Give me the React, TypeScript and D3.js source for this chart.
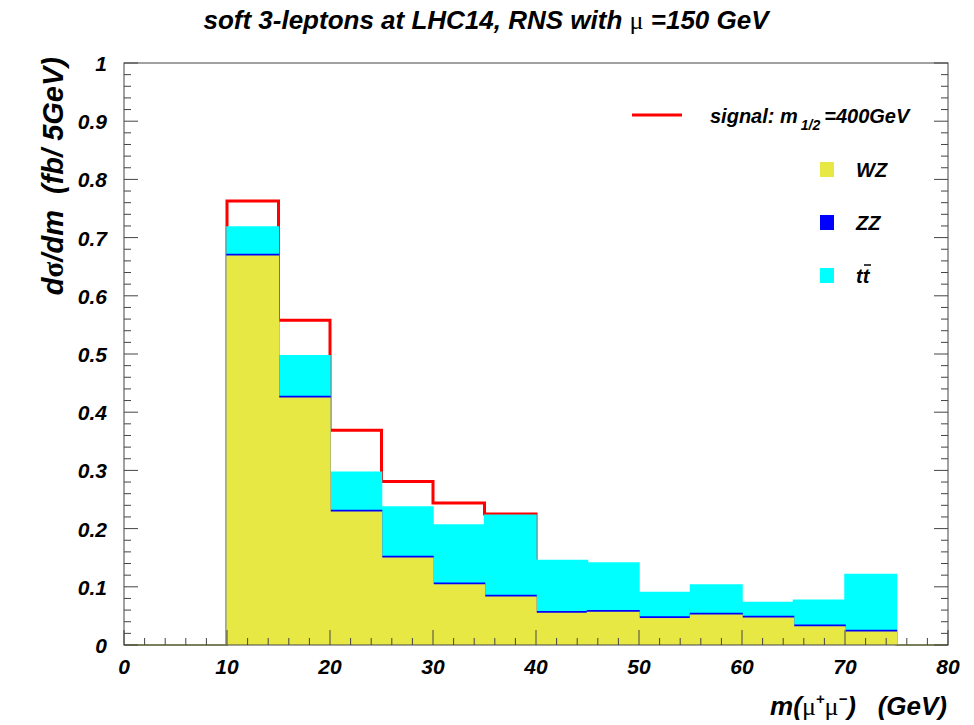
import React from 'react';
import * as d3 from 'd3';

// histogram bins, 5 GeV wide from 0 to 80
const binEdges = [0, 5, 10, 15, 20, 25, 30, 35, 40, 45, 50, 55, 60, 65, 70, 75, 80];
const wzValues = [0, 0, 0.668, 0.424, 0.228, 0.149, 0.103, 0.082, 0.054, 0.056, 0.045, 0.051, 0.046, 0.031, 0.022, 0];
const zzValues = [0, 0, 0.003, 0.003, 0.003, 0.003, 0.003, 0.003, 0.003, 0.003, 0.003, 0.003, 0.003, 0.003, 0.003, 0];
const ttValues = [0, 0, 0.047, 0.070, 0.066, 0.085, 0.100, 0.138, 0.088, 0.082, 0.042, 0.049, 0.024, 0.043, 0.096, 0];
// signal only filled between 10 and 40 GeV
const signalEdges = [10, 15, 20, 25, 30, 35, 40];
const signalValues = [0.763, 0.558, 0.369, 0.281, 0.244, 0.225];

const xTicks = [0, 10, 20, 30, 40, 50, 60, 70, 80];
const yTicks = [0, 0.1, 0.2, 0.3, 0.4, 0.5, 0.6, 0.7, 0.8, 0.9, 1];

const WIDTH = 974;
const HEIGHT = 725;
const FONT = '"Liberation Sans", Arial, sans-serif';
const GREEK = '"Liberation Serif", serif';
const AXIS = '#444';

const YELLOW = '#e8e845';
const BLUE = '#0000ff';
const CYAN = '#00ffff';
const RED = '#ff0000';

const x = d3.scaleLinear().domain([0, 80]).range([124, 948]);
const y = d3.scaleLinear().domain([0, 1]).range([645, 63]);

type Pt = { x: number; y: number };

const stepPoints = (edges: number[], vals: number[]): Pt[] => {
  const pts = vals.map((v, i) => ({ x: edges[i], y: v }));
  pts.push({ x: edges[edges.length - 1], y: vals[vals.length - 1] });
  return pts;
};

const area = d3
  .area<Pt>()
  .x((d) => x(d.x))
  .y0(y(0))
  .y1((d) => y(d.y))
  .curve(d3.curveStepAfter);

const line = d3
  .line<Pt>()
  .x((d) => x(d.x))
  .y((d) => y(d.y))
  .curve(d3.curveStepAfter);

export default function App() {
  const wzzz = wzValues.map((v, i) => v + zzValues[i]);
  const total = wzzz.map((v, i) => v + ttValues[i]);

  const layers = [
    { vals: total, color: CYAN },
    { vals: wzzz, color: BLUE },
    { vals: wzValues, color: YELLOW },
  ];

  const sigPts: Pt[] = [
    { x: signalEdges[0], y: 0 },
    ...stepPoints(signalEdges, signalValues),
    { x: signalEdges[signalEdges.length - 1], y: 0 },
  ];

  const yMinor = d3.range(0, 1.0001, 0.02);
  const xMinor = d3.range(0, 80.001, 2);

  const legend = [
    { label: 'WZ', color: YELLOW },
    { label: 'ZZ', color: BLUE },
    { label: 'tt', color: CYAN },
  ];

  return (
    <svg width={WIDTH} height={HEIGHT} style={{ position: 'absolute', left: 0, top: 0 }}>
      <rect width={WIDTH} height={HEIGHT} fill="#fff" />

      {/* signal drawn first, the stack covers it */}
      <path d={line(sigPts) || ''} fill="none" stroke={RED} strokeWidth={3} />

      {layers.map((l, i) => {
        const pts = stepPoints(binEdges, l.vals);
        return (
          <g key={i}>
            <path d={area(pts) || ''} fill={l.color} />
            <path d={line(pts) || ''} fill="none" stroke={l.color} strokeWidth={1.5} />
          </g>
        );
      })}

      {/* frame */}
      <rect x={x(0)} y={y(1)} width={x(80) - x(0)} height={y(0) - y(1)} fill="none" stroke={AXIS} strokeWidth={1} />

      {/* y ticks left and right */}
      {yMinor.map((v, i) => {
        const major = i % 5 === 0;
        const len = major ? 14 : 7;
        return (
          <g key={'yt' + i} stroke={AXIS} strokeWidth={1}>
            <line x1={x(0)} x2={x(0) + len} y1={y(v)} y2={y(v)} />
            <line x1={x(80)} x2={x(80) - len} y1={y(v)} y2={y(v)} />
          </g>
        );
      })}
      {xMinor.map((v, i) => {
        const major = i % 5 === 0;
        const len = major ? 15 : 7;
        return <line key={'xt' + i} x1={x(v)} x2={x(v)} y1={y(0)} y2={y(0) - len} stroke={AXIS} strokeWidth={1} />;
      })}

      <g fontFamily={FONT} fontWeight="bold" fontStyle="italic" fontSize={21} fill="#000">
        {yTicks.map((v) => (
          <text key={'yl' + v} x={107} y={y(v) + 8} textAnchor="end">
            {d3.format('~g')(v)}
          </text>
        ))}
        {xTicks.map((v) => (
          <text key={'xl' + v} x={x(v)} y={674} textAnchor="middle">
            {v}
          </text>
        ))}
      </g>

      {/* title */}
      <text x={486} y={29} textAnchor="middle" fontFamily={FONT} fontWeight="bold" fontStyle="italic" fontSize={26}>
        soft 3-leptons at LHC14, RNS with{' '}
        <tspan fontFamily={GREEK} fontStyle="normal" fontWeight="normal">μ</tspan> =150 GeV
      </text>

      {/* axis titles */}
      <text
        transform="translate(63,57) rotate(-90)"
        textAnchor="end"
        fontFamily={FONT}
        fontWeight="bold"
        fontStyle="italic"
        fontSize={29}
        xmlSpace="preserve"
      >
        d<tspan fontFamily={GREEK} fontStyle="normal">σ</tspan>/dm  (fb/ 5GeV)
      </text>
      <text x={947} y={715} textAnchor="end" fontFamily={FONT} fontWeight="bold" fontStyle="italic" fontSize={26} xmlSpace="preserve">
        m(<tspan fontFamily={GREEK} fontStyle="normal" fontWeight="normal">μ</tspan>
        <tspan fontSize={15} dy={-11}>+</tspan>
        <tspan fontFamily={GREEK} fontStyle="normal" fontWeight="normal" dy={11}>μ</tspan>
        <tspan fontSize={15} dy={-11}>−</tspan>
        <tspan dy={11}>)   (GeV)</tspan>
      </text>

      {/* legend */}
      <g fontFamily={FONT} fontWeight="bold" fontStyle="italic" fontSize={20}>
        <line x1={632} x2={682} y1={115} y2={115} stroke={RED} strokeWidth={3} />
        <text x={710} y={123}>
          signal: m<tspan fontSize={14} dy={7} dx={3}>1/2</tspan>
          <tspan dy={-7} dx={4}>=400GeV</tspan>
        </text>
        {legend.map((d, i) => {
          const cy = 169 + i * 53;
          return (
            <g key={d.label}>
              <rect x={820} y={cy - 7} width={14} height={15} fill={d.color} />
              <text x={856} y={cy + 8}>
                {d.label}
              </text>
              {d.label === 'tt' && <line x1={864} x2={871} y1={cy - 10} y2={cy - 10} stroke="#000" strokeWidth={1.5} />}
            </g>
          );
        })}
      </g>
    </svg>
  );
}
